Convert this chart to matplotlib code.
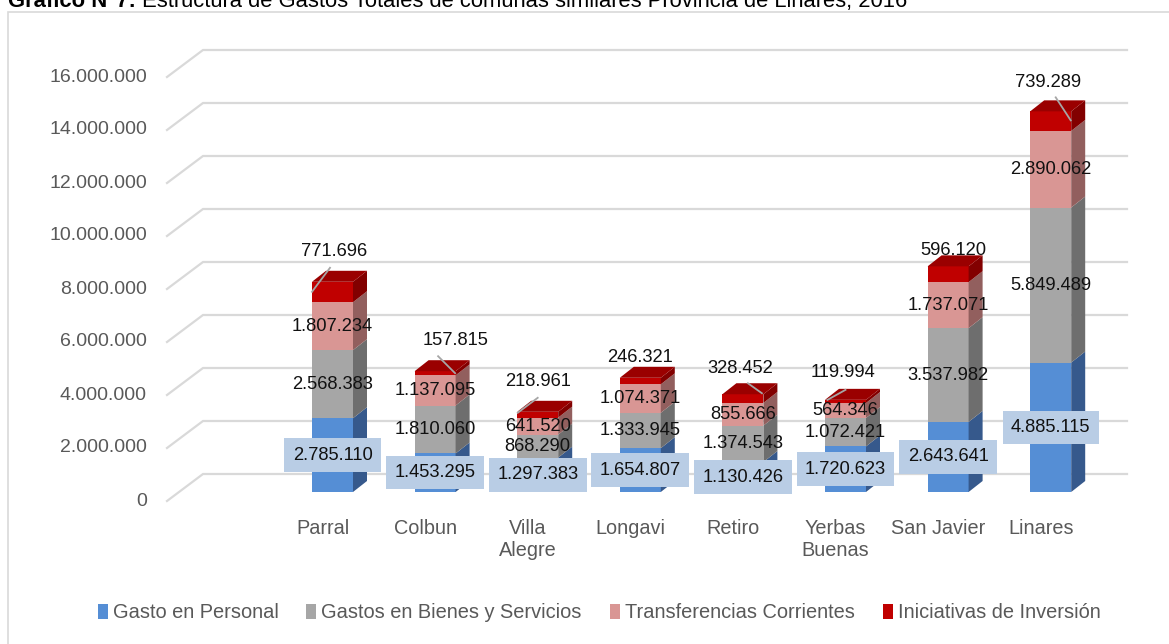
import matplotlib
matplotlib.use('Agg')
import matplotlib.pyplot as plt
from matplotlib.patches import Polygon, Rectangle, Patch

FONT = ['Liberation Sans Narrow', 'Liberation Sans', 'DejaVu Sans']
plt.rcParams['font.family'] = FONT

# ---- data ----
comunas = ["Parral", "Colbun", "Villa\nAlegre", "Longavi", "Retiro", "Yerbas\nBuenas", "San Javier", "Linares"]
series_names = ["Gasto en Personal", "Gastos en Bienes y Servicios", "Transferencias Corrientes", "Iniciativas de Inversión"]
gasto_personal = [2785110, 1453295, 1297383, 1654807, 1130426, 1720623, 2643641, 4885115]
bienes_servicios = [2568383, 1810060, 868290, 1333945, 1374543, 1072421, 3537982, 5849489]
transferencias = [1807234, 1137095, 641520, 1074371, 855666, 564346, 1737071, 2890062]
inversion = [771696, 157815, 218961, 246321, 328452, 119994, 596120, 739289]
yticks = list(range(0, 16000001, 2000000))

# ---- style ----
front_cols = ['#558ed5', '#a6a6a6', '#d99694', '#c00000']
side_cols = ['#36598c', '#6e6e6e', '#925f5e', '#820000']
top_col = '#9a0000'
grid_col = '#d9d9d9'
txt_gray = '#595959'
LBL_FS = 13.2

# pixel geometry of the 3D projection (figure is 1169x644 px)
X0, PX_CAT = 332.5, 102.6     # first bar centre, spacing
Y0, PX_M = 492.0, 26.5        # bar base, px per million


def px2x(px):
    return (px - X0) / PX_CAT


def py2v(py):
    return (Y0 - py) / PX_M * 1e6


def fmt(v):
    return f"{v:,}".replace(",", ".")


bar_w = 41 / PX_CAT
bdx = 14 / PX_CAT
bdy = 11 / PX_M * 1e6

fig = plt.figure(figsize=(11.69, 6.44), dpi=100, facecolor='white')
ax = fig.add_axes([0, 0, 1, 1])
ax.set_xlim(px2x(0), px2x(1169))
ax.set_ylim(py2v(644), py2v(0))
ax.axis('off')

# chart border
ax.add_patch(Rectangle((px2x(8), py2v(700)), px2x(1200) - px2x(8), py2v(11.5) - py2v(700),
                       fill=False, edgecolor='#d9d9d9', lw=1.2, zorder=0))

# gridlines with slanted floor part
gf, gb = py2v(501) - py2v(492), py2v(474) - py2v(492)
for v in yticks:
    ax.plot([px2x(167), px2x(203), px2x(1127)], [v + gf, v + gb, v + gb],
            color=grid_col, lw=1.6, zorder=1, solid_joinstyle='miter')
    ax.text(px2x(147), v + gf, fmt(v), ha='right', va='center',
            fontsize=14, color=txt_gray)

# bars
stack = [gasto_personal, bienes_servicios, transferencias, inversion]
for i in range(len(comunas)):
    bottom = 0
    for s, vals in enumerate(stack):
        val = vals[i]
        top = bottom + val
        l, r = i - bar_w / 2, i + bar_w / 2
        ax.bar(i, val, bottom=bottom, width=bar_w, color=front_cols[s], lw=0, zorder=3)
        ax.add_patch(Polygon([(r, bottom), (r + bdx, bottom + bdy), (r + bdx, top + bdy), (r, top)],
                             closed=True, facecolor=side_cols[s], lw=0, zorder=3))
        if s == len(stack) - 1:
            ax.add_patch(Polygon([(l, top), (l + bdx, top + bdy), (r + bdx, top + bdy), (r, top)],
                                 closed=True, facecolor=top_col, lw=0, zorder=3))
        mid = bottom + val / 2
        if s == 0:
            ax.text(i, mid, fmt(val), ha='center', va='center', fontsize=LBL_FS, color='#111111', zorder=6,
                    bbox=dict(boxstyle='square,pad=0.45', fc='#b9cde5', ec='none'))
        elif s in (1, 2):
            ax.text(i, mid, fmt(val), ha='center', va='center', fontsize=LBL_FS, color='#111111', zorder=6)
        bottom = top

# labels of the top series, placed above with leader lines (offsets in px)
lab_off = [(1.5, -30), (20, -31), (0, -30), (0, -20), (-3, -26), (-2, -27), (5, -16), (-3, -29)]
leaders = [((-2.5, -14), (-20.5, 10)), ((3, -15), (20, 2)), ((0, -14), (-20, 1)), None,
           ((5, -11), (19, -1)), ((0, -10), (-18, 0)), None, ((5, -14), (20, 9))]
for i in range(len(comunas)):
    tot = gasto_personal[i] + bienes_servicios[i] + transferencias[i] + inversion[i]
    cx = X0 + i * PX_CAT
    cy = Y0 - tot / 1e6 * PX_M
    ox, oy = lab_off[i]
    ax.text(px2x(cx + ox), py2v(cy + oy), fmt(inversion[i]),
            ha='center', va='center', fontsize=LBL_FS, color='#111111', zorder=6)
    if leaders[i]:
        (a, b), (c, d) = leaders[i]
        ax.plot([px2x(cx + a), px2x(cx + c)], [py2v(cy + b), py2v(cy + d)],
                color='#a6a6a6', lw=1.3, zorder=5)

# category labels
for i, name in enumerate(comunas):
    ax.text(px2x(X0 + i * PX_CAT - 10), py2v(519), name, ha='center', va='top',
            fontsize=14.3, color=txt_gray, linespacing=1.2)

# legend
handles = [Patch(facecolor=c, edgecolor='none') for c in front_cols]
fig.legend(handles, series_names, loc='center', bbox_to_anchor=(599 / 1169, 1 - 613 / 644),
           ncol=4, frameon=False, fontsize=14.4, labelcolor=txt_gray,
           handlelength=0.5, handleheight=0.75, handletextpad=0.25, columnspacing=1.4)

# title (cut off at the top as in the source)
t1 = fig.text(8 / 1169, 1 - 7 / 644, "Gráfico N°7:", fontsize=15.8, fontweight='bold',
              ha='left', va='baseline', color='black')
t2 = fig.text(0.5, 1 - 7 / 644, " Estructura de Gastos Totales de comunas similares Provincia de Linares, 2016",
              fontsize=15.8, ha='left', va='baseline', color='black')
fig.canvas.draw()
bb = t1.get_window_extent()
t2.set_x(bb.x1 / fig.bbox.width)

fig.savefig('out.png', dpi=100)
